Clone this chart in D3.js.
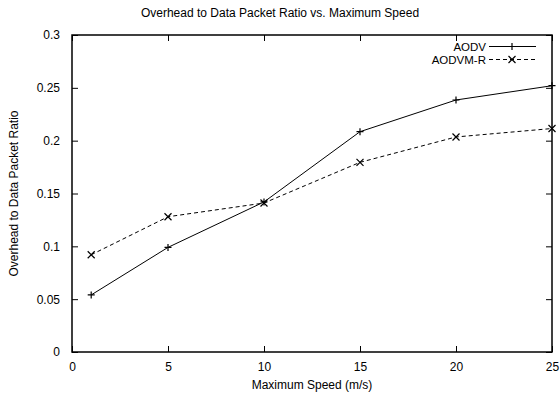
<!DOCTYPE html>
<html>
<head>
<meta charset="utf-8">
<script src="https://cdn.jsdelivr.net/npm/d3@7"></script>
<style>
  body { margin: 0; background: #fff; }
  text { font-family: "Liberation Sans", Arial, sans-serif; font-size: 12px; fill: #000; }
</style>
</head>
<body>
<div id="chart"></div>
<script>
// data
const speeds = [1, 5, 10, 15, 20, 25];
const aodv = [0.054, 0.099, 0.142, 0.2085, 0.2385, 0.252];
const aodvmr = [0.092, 0.128, 0.141, 0.1795, 0.2035, 0.2115];
const xTicks = [0, 5, 10, 15, 20, 25];
const yTicks = [0, 0.05, 0.1, 0.15, 0.2, 0.25, 0.3];

const width = 560, height = 398;
const marginLeft = 72, marginRight = 8, marginTop = 35, marginBottom = 46;

const svg = d3.select("#chart").append("svg")
    .attr("width", width)
    .attr("height", height);

const xScale = d3.scaleLinear().domain([0, 25]).range([marginLeft, width - marginRight]);
const yScale = d3.scaleLinear().domain([0, 0.3]).range([height - marginBottom, marginTop]);

const tickLen = 6;

// axes, ticks pointing inward, mirrored like gnuplot
svg.append("g")
    .attr("transform", `translate(0, ${height - marginBottom})`)
    .call(d3.axisBottom(xScale).tickValues(xTicks).tickSizeInner(-tickLen).tickSizeOuter(0).tickPadding(10).tickFormat(d3.format("d")))
    .call(g => g.select(".domain").remove());
svg.append("g")
    .attr("transform", `translate(0, ${marginTop})`)
    .call(d3.axisTop(xScale).tickValues(xTicks).tickSizeInner(-tickLen).tickSizeOuter(0).tickFormat(""))
    .call(g => g.select(".domain").remove());
svg.append("g")
    .attr("transform", `translate(${marginLeft}, 0)`)
    .call(d3.axisLeft(yScale).tickValues(yTicks).tickSizeInner(-tickLen).tickSizeOuter(0).tickPadding(12).tickFormat(d => d === 0 ? "0" : String(+d.toFixed(2))))
    .call(g => g.select(".domain").remove());
svg.append("g")
    .attr("transform", `translate(${width - marginRight}, 0)`)
    .call(d3.axisRight(yScale).tickValues(yTicks).tickSizeInner(-tickLen).tickSizeOuter(0).tickFormat(""))
    .call(g => g.select(".domain").remove());

svg.selectAll(".tick text").style("font-family", "'Liberation Sans', Arial, sans-serif").style("font-size", "12px");
svg.selectAll(".tick line").attr("stroke", "#000");

// border
svg.append("rect")
    .attr("x", marginLeft).attr("y", marginTop)
    .attr("width", width - marginLeft - marginRight)
    .attr("height", height - marginTop - marginBottom)
    .attr("fill", "none").attr("stroke", "#000").attr("stroke-width", 1.5);

const line = d3.line().x((d, i) => xScale(speeds[i])).y(d => yScale(d));

const series = [
  { name: "AODV", values: aodv, dash: null, marker: "plus" },
  { name: "AODVM-R", values: aodvmr, dash: "4,3", marker: "cross" }
];

function marker(g, type, cx, cy) {
  const s = 3.5;
  const p = type === "plus"
    ? `M${cx - s},${cy}H${cx + s}M${cx},${cy - s}V${cy + s}`
    : `M${cx - s},${cy - s}L${cx + s},${cy + s}M${cx - s},${cy + s}L${cx + s},${cy - s}`;
  g.append("path").attr("d", p).attr("stroke", "#000").attr("stroke-width", 1.2).attr("fill", "none");
}

series.forEach((s, k) => {
  const g = svg.append("g");
  g.append("path")
    .attr("d", line(s.values))
    .attr("fill", "none")
    .attr("stroke", "#000")
    .attr("stroke-width", 1)
    .attr("stroke-dasharray", s.dash);
  s.values.forEach((v, i) => marker(g, s.marker, xScale(speeds[i]), yScale(v)));

  // legend
  const ly = 46.5 + k * 13;
  g.append("text").attr("x", 486).attr("y", ly).attr("dy", "0.35em").attr("text-anchor", "end")
    .style("font-size", "11.5px").text(s.name);
  g.append("line").attr("x1", 489).attr("x2", 536).attr("y1", ly).attr("y2", ly)
    .attr("stroke", "#000").attr("stroke-width", 1).attr("stroke-dasharray", s.dash);
  marker(g, s.marker, 512, ly);
});

// titles
svg.append("text").attr("x", 280).attr("y", 17).attr("text-anchor", "middle")
    .text("Overhead to Data Packet Ratio vs. Maximum Speed");
svg.append("text").attr("x", (marginLeft + width - marginRight) / 2).attr("y", 389).attr("text-anchor", "middle")
    .text("Maximum Speed (m/s)");
svg.append("text")
    .attr("transform", `translate(18, ${(marginTop + height - marginBottom) / 2}) rotate(-90)`)
    .attr("text-anchor", "middle")
    .text("Overhead to Data Packet Ratio");
</script>
</body>
</html>
